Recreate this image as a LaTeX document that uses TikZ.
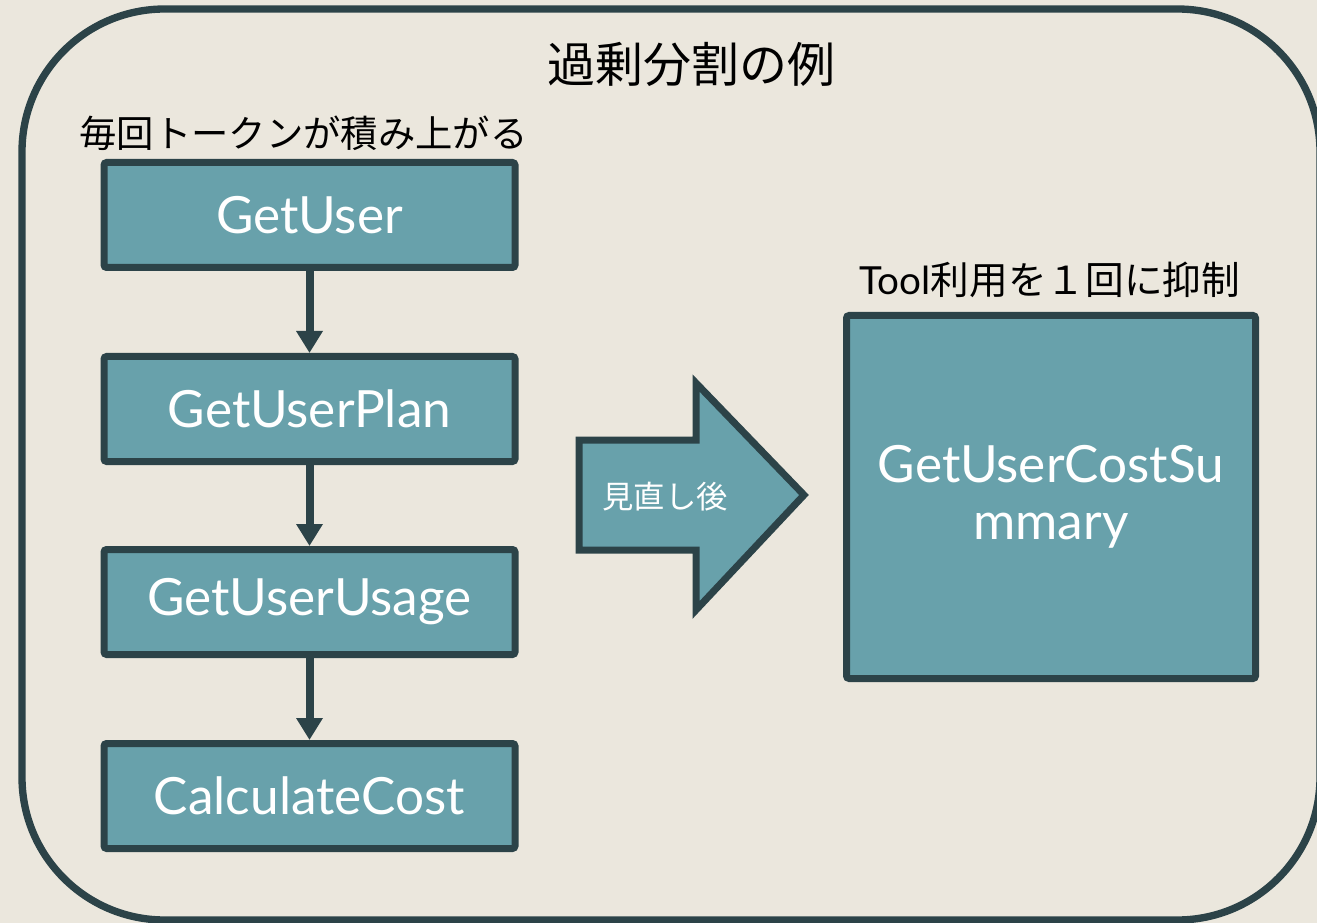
\documentclass[tikz,border=0pt]{standalone}
\usepackage{fontspec}
\setmainfont{Lato}
\newfontfamily\jp{Noto Sans CJK JP}
\usetikzlibrary{arrows.meta}
\definecolor{bg}{HTML}{EBE7DD}
\definecolor{boxfill}{HTML}{68A1AB}
\definecolor{edge}{HTML}{2C4348}
\tikzset{
  stepbox/.style={draw=edge, fill=boxfill, line width=5.25pt, rounded corners=2pt,
    minimum width=308.25pt, minimum height=78.75pt, inner sep=0pt,
    text=white, font=\fontsize{38.5}{43}\selectfont},
  flow/.style={draw=edge, line width=6pt, -{Triangle[length=16.5pt,width=19pt]}},
  lbl/.style={inner sep=0pt, text=black}
}
\begin{document}
\begin{tikzpicture}[x=0.75pt,y=-0.75pt]
\useasboundingbox (0,0) rectangle (1317,923);
\fill[bg] (0,0) rectangle (1317,923);
\draw[edge, line width=5.5pt, rounded corners=107pt] (22,9) rectangle (1320,920);
\node[lbl, font=\jp\fontsize{36}{40}\selectfont] (title) at (691,64) {過剰分割の例};
\node[lbl, font=\jp\fontsize{28}{32}\selectfont] (note1) at (303.5,133) {毎回トークンが積み上がる};
\node[lbl, font=\fontsize{29}{32}\selectfont] (note2) at (1050,280) {Tool{\jp 利用を１回に抑制}};
\node[stepbox] (n1) at (309.5,215) {GetUser};
\node[stepbox] (n2) at (309.5,409) {GetUserPlan};
\node[stepbox] (n3) at (309.5,602) {GetUserUsage};
\node[stepbox] (n4) at (309.5,796) {CalculateCost};
\draw[flow] (n1.south) -- (n2.north);
\draw[flow] (n2.south) -- (n3.north);
\draw[flow] (n3.south) -- (n4.north);
\draw[edge, fill=boxfill, line width=5.25pt, line join=miter]
  (579,440) -- (696,440) -- (696,383) -- (804,495) -- (696,610) -- (696,550) -- (579,550) -- cycle;
\node[lbl, text=white, font=\jp\fontsize{23.5}{26}\selectfont] (after) at (665,497) {見直し後};
\node[stepbox, minimum width=306.75pt, minimum height=272.25pt, align=center,
  font=\fontsize{38.5}{43}\selectfont] (n5) at (1051,497) {GetUserCostSu\\mmary};
\end{tikzpicture}
\end{document}
